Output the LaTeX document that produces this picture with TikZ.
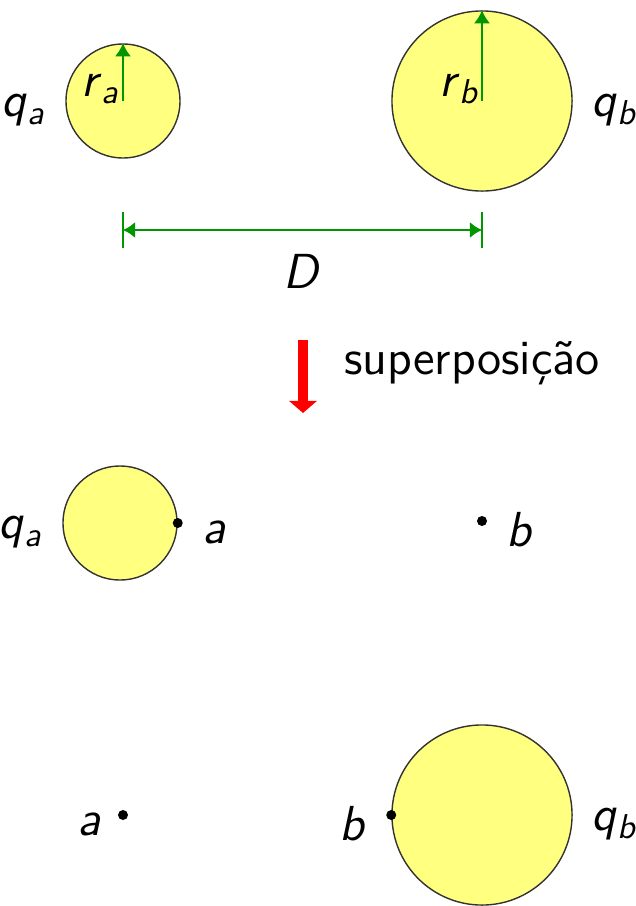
\documentclass[tikz,border=0pt]{standalone}
\usetikzlibrary{arrows.meta,positioning}
\definecolor{leaf}{RGB}{0,150,0}
\definecolor{lemon}{RGB}{255,255,128}
\newcommand\symb[2]{\textit{#1}\textsubscript{\textit{#2}}}

\begin{document}
\begin{tikzpicture}[x=0.01cm,y=-0.01cm,
    every node/.style={font=\sffamily\fontsize{14}{16}\selectfont,inner sep=1pt},
    charge/.style={circle,draw=black!80,fill=lemon,line width=0.4pt,inner sep=0pt},
    pt/.style={circle,fill=black,inner sep=0pt,minimum size=1mm},
    side/.style={yshift=-0.9mm},
    radarrow/.style={-{Latex[length=1.3mm,width=1.6mm]},leaf,line width=0.6pt}]
  \useasboundingbox (0,0) rectangle (635,906);
  % the two charges
  \node[charge,minimum size=1.14cm] (qa) at (123,101) {};
  \node[charge,minimum size=1.8cm] (qb) at (482,101) {};
  \draw[radarrow] (qa.center) -- (qa.north);
  \draw[radarrow] (qb.center) -- (qb.north);
  \node (ra) at (101,89) {\symb{r}{a}};
  \node (rb) at (460,89) {\symb{r}{b}};
  \node[left=1.5mm of qa,side] (la) {\symb{q}{a}};
  \node[right=1.5mm of qb,side] (lb) {\symb{q}{b}};
  % distance
  \path (qa.center) ++(0,129) coordinate (dl);
  \path (qb.center) ++(0,129) coordinate (dr);
  \foreach \c in {dl,dr} \draw[leaf,line width=0.6pt] (\c) ++(0,-18) -- ++(0,36);
  \draw[leaf,line width=0.6pt,{Latex[length=1.2mm,width=1.6mm]}-{Latex[length=1.2mm,width=1.6mm]}] (dl) -- (dr) node[midway,below=2mm,black] (D) {\textit{D}};
  % superposition
  \coordinate (s1) at (303,340);
  \coordinate (s2) at (303,413);
  \draw[red,line width=1mm,-{Triangle[length=1.2mm,width=2.7mm]}] (s1) -- (s2);
  \node[anchor=west] (sp) at (340,363) {superposição};
  % only q_a
  \node[charge,minimum size=1.14cm] (qa2) at (120,523) {};
  \node[pt] (a2) at (qa2.east) {};
  \node[right=1.5mm of a2,side] (la2) {\textit{a}};
  \node[left=1.5mm of qa2,side] (lqa2) {\symb{q}{a}};
  \node[pt] (b2) at (482,521) {};
  \node[right=1.5mm of b2,side] (lb2) {\textit{b}};
  % only q_b
  \node[pt] (a3) at (123,815) {};
  \node[left=1.2mm of a3,side] (la3) {\textit{a}};
  \node[charge,minimum size=1.8cm] (qb3) at (482,815) {};
  \node[pt] (b3) at (qb3.west) {};
  \node[left=1.5mm of b3,side] (lb3) {\textit{b}};
  \node[right=1.5mm of qb3,side] (lqb3) {\symb{q}{b}};
\end{tikzpicture}
\end{document}
